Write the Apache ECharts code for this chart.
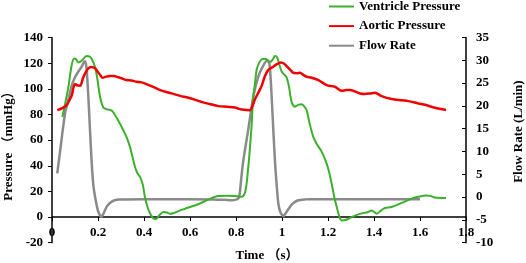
<!DOCTYPE html>
<html>
<head>
<meta charset="utf-8">
<script src="https://cdn.jsdelivr.net/npm/echarts@6/dist/echarts.min.js"></script>
<style>
  html, body { margin: 0; padding: 0; background: #fff; }
  #chart { width: 526px; height: 263px; }
</style>
</head>
<body>
<div id="chart"></div>
<script>
// time ticks and axis ranges
const timeTicks = [0, 0.2, 0.4, 0.6, 0.8, 1, 1.2, 1.4, 1.6, 1.8];
const seriesNames = ["Ventricle Pressure", "Aortic Pressure", "Flow Rate"];
const xName = "Time （s）";
const yLeftName = "Pressure （mmHg）";
const yRightName = "Flow Rate (L/min)";

// ventricle pressure (mmHg)
const ventricleTime = [0.045, 0.07, 0.085, 0.096, 0.105, 0.115, 0.129, 0.151, 0.165, 0.175, 0.187, 0.197, 0.209, 0.223, 0.24, 0.26, 0.274, 0.295, 0.31, 0.325, 0.339, 0.35, 0.361, 0.372, 0.383, 0.395, 0.404, 0.415, 0.426, 0.44, 0.452, 0.465, 0.484, 0.5, 0.513, 0.527, 0.557, 0.578, 0.636, 0.68, 0.723, 0.76, 0.796, 0.825, 0.838, 0.846, 0.855, 0.861, 0.868, 0.875, 0.883, 0.89, 0.9, 0.912, 0.926, 0.94, 0.95, 0.96, 0.97, 0.98, 0.99, 0.999, 1.01, 1.02, 1.03, 1.042, 1.057, 1.07, 1.086, 1.1, 1.107, 1.12, 1.136, 1.151, 1.173, 1.194, 1.205, 1.216, 1.228, 1.238, 1.25, 1.26, 1.275, 1.288, 1.31, 1.339, 1.375, 1.39, 1.412, 1.43, 1.448, 1.477, 1.52, 1.564, 1.586, 1.629, 1.645, 1.665, 1.713];
const ventricle = [78, 100, 118, 123.7, 123, 120.6, 121.9, 125.5, 125, 122.5, 117, 108, 93.8, 85.5, 84, 83, 79.5, 73, 67.7, 62, 54.7, 47, 39, 34, 31.3, 25, 15.6, 8, 3, -1, -1.5, 1, 4, 3.5, 2.6, 3, 5.2, 6.5, 10, 13.6, 16.4, 16.6, 16.4, 15.8, 18.5, 26, 42, 54.7, 72, 93.7, 105, 115, 120, 123, 123.5, 122, 121, 123, 125.5, 124, 118, 113.3, 111, 109, 102, 89.8, 86, 87.5, 88, 85.5, 83.4, 73, 62.5, 57, 50.8, 41.7, 35, 26, 15, 7.8, 0, -2.6, -2.3, -1.5, 0.5, 2.5, 4, 5.2, 2.6, 5, 7, 7.8, 11, 14.4, 15.6, 16.9, 16.5, 15.2, 14.8];

// aortic pressure (mmHg)
const aorticTime = [0.023, 0.045, 0.064, 0.075, 0.086, 0.1, 0.112, 0.122, 0.136, 0.147, 0.158, 0.17, 0.18, 0.19, 0.2, 0.21, 0.22, 0.235, 0.252, 0.27, 0.288, 0.305, 0.325, 0.345, 0.368, 0.39, 0.41, 0.44, 0.47, 0.52, 0.557, 0.593, 0.63, 0.665, 0.7, 0.723, 0.76, 0.796, 0.81, 0.825, 0.846, 0.86, 0.868, 0.883, 0.9, 0.912, 0.926, 0.94, 0.96, 0.98, 0.995, 1.01, 1.02, 1.035, 1.049, 1.065, 1.078, 1.095, 1.107, 1.129, 1.158, 1.194, 1.23, 1.26, 1.28, 1.296, 1.339, 1.361, 1.383, 1.404, 1.433, 1.477, 1.52, 1.549, 1.593, 1.622, 1.665, 1.713];
const aortic = [83.4, 85, 87.3, 91, 95, 103.7, 102.5, 102.4, 109, 113, 116, 117, 116.7, 115.5, 113, 110.5, 108.6, 109.5, 110, 110, 109, 108, 106.8, 106.5, 105.5, 105, 103.7, 101.5, 99, 96.4, 94.5, 93, 91, 89, 87.5, 86.5, 86, 85.5, 84.5, 83.9, 83.4, 83.3, 85, 92, 98, 102.5, 110, 114.6, 117, 119.5, 120.6, 119.5, 117.7, 115, 112.5, 112.2, 112.5, 110.5, 109.4, 108.6, 106.8, 102.9, 101.6, 98.4, 99, 99, 96.4, 96, 96.4, 96.9, 94.3, 92, 91, 90.4, 88.6, 87.5, 85.2, 83.4];

// flow rate (L/min), right axis
const flowTime = [0.023, 0.04, 0.057, 0.072, 0.086, 0.1, 0.114, 0.128, 0.14, 0.145, 0.151, 0.158, 0.165, 0.172, 0.18, 0.19, 0.2, 0.21, 0.216, 0.225, 0.238, 0.252, 0.267, 0.29, 0.31, 0.5, 0.7, 0.75, 0.78, 0.8, 0.812, 0.818, 0.822, 0.832, 0.853, 0.875, 0.897, 0.915, 0.935, 0.945, 0.95, 0.955, 0.962, 0.97, 0.977, 0.984, 0.993, 1.006, 1.02, 1.035, 1.05, 1.071, 1.1, 1.122, 1.6];
const flow = [5.2, 12, 18.5, 21.5, 24.5, 26.3, 27.5, 28.5, 29.7, 29.8, 27.8, 22, 15, 8, 2.5, -0.7, -3, -4.1, -4.3, -3.5, -2.1, -1.3, -0.8, -0.55, -0.5, -0.45, -0.5, -0.6, -0.7, -0.55, -0.2, 1.5, 3.7, 8.1, 14.7, 22, 26.4, 28.5, 30, 29.3, 26.5, 22, 15, 7.4, 2.5, -1.4, -3.3, -4.2, -3.2, -2.1, -1.3, -0.7, -0.5, -0.45, -0.45];

function zip(xs, ys) {
  return xs.map((x, i) => [x, ys[i]]);
}

const font = "'Liberation Serif', 'Times New Roman', serif";
const cjkFont = "'Liberation Serif', 'Noto Sans CJK SC', serif";
const textStyle = { color: "#000", fontFamily: font, fontWeight: "bold", fontSize: 13 };

const myChart = echarts.init(document.getElementById("chart"), null, { renderer: "canvas" });

// axis titles as plain text, the v6 name placement pushes them off the page
const titleFont = "bold 13px " + cjkFont;

const option = {
  animation: false,
  backgroundColor: "#fff",
  grid: { left: 52, right: 60, top: 37.5, bottom: 20.3, containLabel: false, outerBoundsMode: "none" },
  legend: {
    orient: "vertical",
    left: 328,
    top: 0,
    padding: 0,
    itemWidth: 25,
    itemHeight: 12,
    itemGap: 6.6,
    itemStyle: { opacity: 0 },
    textStyle: Object.assign({}, textStyle),
    data: seriesNames,
  },
  graphic: {
    elements: [
      {
        type: "text",
        x: 267,
        y: 256,
        style: { text: xName, font: titleFont, fill: "#000", align: "center", verticalAlign: "middle" },
      },
      {
        type: "text",
        x: 9,
        y: 143,
        rotation: Math.PI / 2,
        style: { text: yLeftName, font: titleFont, fill: "#000", align: "center", verticalAlign: "middle" },
      },
    ],
  },
  xAxis: {
    type: "value",
    min: 0,
    max: 1.8,
    interval: 0.2,
    axisLine: { onZero: true, onZeroAxisIndex: 0, lineStyle: { color: "#000", width: 1.5 } },
    axisTick: { show: true, length: 4, lineStyle: { color: "#000" } },
    // labels sit at the grid bottom in v6, pull them up under the zero line
    axisLabel: Object.assign({}, textStyle, { margin: -17 }),
    splitLine: { show: false },
  },
  yAxis: [
    {
      type: "value",
      min: -20,
      max: 140,
      interval: 20,
      axisLine: { show: true, onZero: false, lineStyle: { color: "#000", width: 1.5 } },
      axisTick: { show: true, length: 4, lineStyle: { color: "#000" } },
      axisLabel: Object.assign({}, textStyle, { margin: 9 }),
      splitLine: { show: false },
    },
    {
      type: "value",
      position: "right",
      min: -10,
      max: 35,
      interval: 5,
      name: yRightName,
      nameLocation: "middle",
      nameGap: 46,
      nameTextStyle: Object.assign({}, textStyle, { padding: [0, 0, 0, 17] }),
      axisLine: { show: true, onZero: false, lineStyle: { color: "#000", width: 1.5 } },
      axisTick: { show: true, inside: true, length: 4, lineStyle: { color: "#000" } },
      axisLabel: Object.assign({}, textStyle, { margin: 10 }),
      splitLine: { show: false },
    },
  ],
  series: [
    {
      name: seriesNames[2],
      type: "line",
      yAxisIndex: 1,
      symbol: "none",
      smooth: 0.2,
      z: 1,
      lineStyle: { color: "#8a8a8a", width: 2.5 },
      itemStyle: { color: "#8a8a8a" },
      data: zip(flowTime, flow),
    },
    {
      name: seriesNames[0],
      type: "line",
      yAxisIndex: 0,
      symbol: "none",
      smooth: 0.3,
      z: 2,
      lineStyle: { color: "#3cb02c", width: 2 },
      itemStyle: { color: "#3cb02c" },
      data: zip(ventricleTime, ventricle),
    },
    {
      name: seriesNames[1],
      type: "line",
      yAxisIndex: 0,
      symbol: "none",
      smooth: 0.3,
      z: 3,
      lineStyle: { color: "#f00000", width: 2.5 },
      itemStyle: { color: "#f00000" },
      data: zip(aorticTime, aortic),
    },
  ],
};

myChart.setOption(option);
</script>
</body>
</html>
